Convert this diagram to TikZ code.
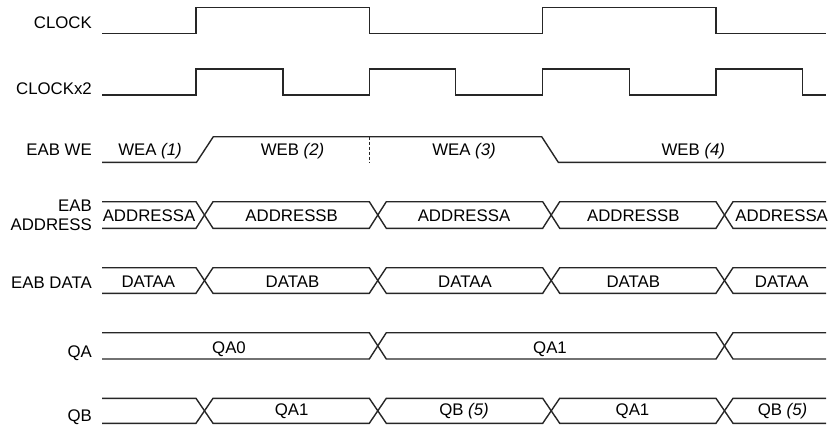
\documentclass[tikz,border=0pt]{standalone}
\usepackage{fontspec}
\setmainfont{Liberation Sans}
\begin{document}
\begin{tikzpicture}[x=1pt,y=-1pt,
  sig/.style={line width=1.4pt, line join=miter, draw=black!85},
  lbl/.style={anchor=base east, inner sep=0pt, font=\fontsize{16.8}{19}\selectfont},
  txt/.style={anchor=base, inner sep=0pt, font=\fontsize{16.8}{19}\selectfont}]
\useasboundingbox (0,0) rectangle (840,424);
% labels
\node[lbl] (lclk) at (92,28.5) {CLOCK};
\node[lbl] (lclk2) at (92,94.2) {CLOCKx2};
\node[lbl] (lwe) at (92,155.5) {EAB WE};
\node[lbl] (ladr1) at (92,211.5) {EAB};
\node[lbl] (ladr2) at (92,230) {ADDRESS};
\node[lbl] (ldat) at (92,288) {EAB DATA};
\node[lbl] (lqa) at (92,357) {QA};
\node[lbl] (lqb) at (92,421) {QB};
% CLOCK
\draw[sig] (102,33.3) -- (196,33.3) -- (196,7.3) -- (369.3,7.3) -- (369.3,33.3) -- (542.7,33.3) -- (542.7,7.3) -- (716,7.3) -- (716,33.3) -- (826,33.3);
% CLOCKx2
\draw[sig] (102,95) -- (196,95) -- (196,69) -- (283,69) -- (283,95) -- (369.3,95) -- (369.3,69) -- (455.7,69) -- (455.7,95) -- (542.7,95) -- (542.7,69) -- (629.3,69) -- (629.3,95) -- (716,95) -- (716,69) -- (802.3,69) -- (802.3,95) -- (826,95);
% EAB WE
\draw[sig] (102,162.3) -- (196.5,162.3) -- (213.3,136.7) -- (541.7,136.7) -- (558.3,162.3) -- (826,162.3);
\draw[line width=1pt, densely dashed, draw=black!85] (369.3,136.7) -- (369.3,162.3);
\node[txt] (we1) at (150,155.5) {WEA \textit{(1)}};
\node[txt] (we2) at (292.5,155.5) {WEB \textit{(2)}};
\node[txt] (we3) at (464,155.5) {WEA \textit{(3)}};
\node[txt] (we4) at (693.3,155.5) {WEB \textit{(4)}};
% EAB ADDRESS
\def\T{201.7}\def\B{228.3}
\draw[sig] (102,\T) -- (196,\T) -- (213,\B) -- (369.3,\B) -- (386.3,\T) -- (542.7,\T) -- (559.7,\B) -- (716,\B) -- (733,\T) -- (826,\T);
\draw[sig] (102,\B) -- (196,\B) -- (213,\T) -- (369.3,\T) -- (386.3,\B) -- (542.7,\B) -- (559.7,\T) -- (716,\T) -- (733,\B) -- (826,\B);
\node[txt] (a1) at (149,221.5) {ADDRESSA};
\node[txt] (a2) at (291.7,221.5) {ADDRESSB};
\node[txt] (a3) at (464,221.5) {ADDRESSA};
\node[txt] (a4) at (633.3,221.5) {ADDRESSB};
\node[txt] (a5) at (781.7,221.5) {ADDRESSA};
% EAB DATA
\def\T{267.7}\def\B{293.3}
\draw[sig] (102,\T) -- (196,\T) -- (213,\B) -- (369.3,\B) -- (386.3,\T) -- (542.7,\T) -- (559.7,\B) -- (716,\B) -- (733,\T) -- (826,\T);
\draw[sig] (102,\B) -- (196,\B) -- (213,\T) -- (369.3,\T) -- (386.3,\B) -- (542.7,\B) -- (559.7,\T) -- (716,\T) -- (733,\B) -- (826,\B);
\node[txt] (d1) at (148.3,287) {DATAA};
\node[txt] (d2) at (292.5,287) {DATAB};
\node[txt] (d3) at (465,287) {DATAA};
\node[txt] (d4) at (633.3,287) {DATAB};
\node[txt] (d5) at (781.7,287) {DATAA};
% QA
\def\T{332.7}\def\B{359}
\draw[sig] (102,\T) -- (369.3,\T) -- (386.3,\B) -- (716,\B) -- (733,\T) -- (826,\T);
\draw[sig] (102,\B) -- (369.3,\B) -- (386.3,\T) -- (716,\T) -- (733,\B) -- (826,\B);
\node[txt] (qa0) at (229,353.3) {QA0};
\node[txt] (qa1) at (550,353.3) {QA1};
% QB
\def\T{398.3}\def\B{423.3}
\draw[sig] (102,\T) -- (196,\T) -- (213,\B) -- (369.3,\B) -- (386.3,\T) -- (542.7,\T) -- (559.7,\B) -- (716,\B) -- (733,\T) -- (826,\T);
\draw[sig] (102,\B) -- (196,\B) -- (213,\T) -- (369.3,\T) -- (386.3,\B) -- (542.7,\B) -- (559.7,\T) -- (716,\T) -- (733,\B) -- (826,\B);
\node[txt] (b1) at (291.7,415) {QA1};
\node[txt] (b2) at (464,415) {QB \textit{(5)}};
\node[txt] (b3) at (632.5,415) {QA1};
\node[txt] (b4) at (782.5,415) {QB \textit{(5)}};
\end{tikzpicture}
\end{document}
